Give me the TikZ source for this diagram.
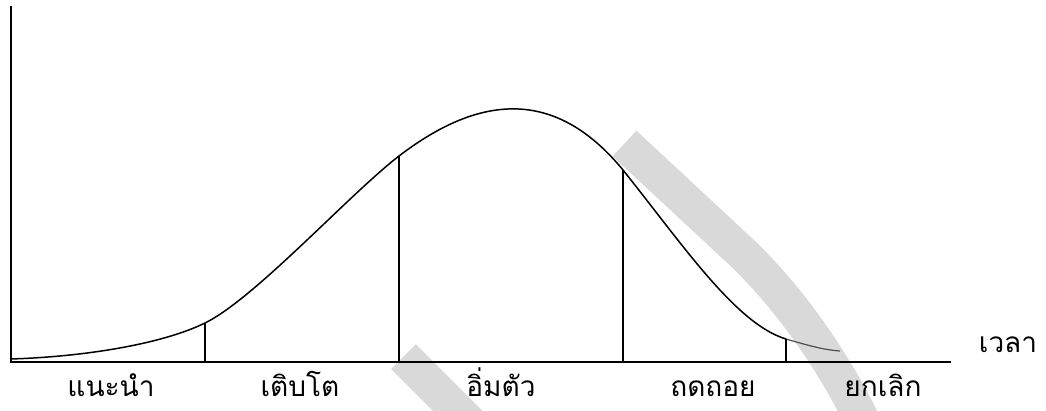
\documentclass[tikz,border=0pt]{standalone}
\usepackage{fontspec}
\newfontfamily\thaifont[Script=Thai]{Loma}
\definecolor{bandgray}{HTML}{D9D9D9}
\tikzset{
  axisline/.style={line width=1.6pt, line cap=rect},
  curveline/.style={line width=1.5pt},
  divline/.style={line width=1.4pt},
  band/.style={line width=35pt, draw=bandgray},
  lbl/.style={font=\thaifont\fontsize{28}{30}\selectfont, anchor=base, inner sep=0pt},
}
\begin{document}
\begin{tikzpicture}[x=1pt,y=-1pt]
\useasboundingbox (0,0) rectangle (1046,410);
% grey bands (background)
\begin{scope}
  \clip (0,0) rectangle (1046,410);
  \draw[band] (624.5,143.5) -- (739,250) .. controls (785,293) and (830,355) .. (862,420) -- (866,440);
  \draw[band] (403.5,356.5) -- (470,423);
\end{scope}
% axes
\coordinate (origin) at (11,362);
\coordinate (ytop) at (11,7);
\coordinate (xend) at (950,362);
\draw[axisline] (ytop) -- (origin) -- (xend);
% dividers on the curve
\coordinate (c0) at (10,359);
\coordinate (d1) at (205,323);
\coordinate (d2) at (399,156);
\coordinate (d3) at (623,170);
\coordinate (d4) at (786,339);
\coordinate (c5) at (840,351);
% curve
\draw[curveline] (c0) .. controls (80,357) and (160,345) .. (d1)
  .. controls (255,298.5) and (349,194.5) .. (d2)
  .. controls (484,91) and (558,91) .. (d3)
  .. controls (683,245) and (736,324) .. (d4);
\draw[line width=1.2pt, black!70] (d4) .. controls (810,346) and (825,350) .. (c5);
\foreach \d in {d1,d2,d3,d4} \draw[divline] (\d) -- (\d |- origin);
% labels
\node[lbl] (intro) at (111,396) {แนะนำ};
\node[lbl] (growth) at (300,396) {เติบโต};
\node[lbl] (mature) at (501,396) {อิ่มตัว};
\node[lbl] (decline) at (713,396) {ถดถอย};
\node[lbl] (cancel) at (883,396) {ยกเลิก};
\node[lbl] (time) at (1008,352) {เวลา};
\end{tikzpicture}
\end{document}
